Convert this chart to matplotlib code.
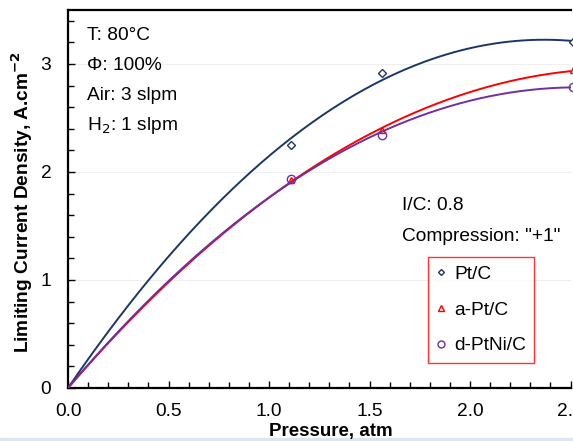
import matplotlib.pyplot as plt
import numpy as np
from matplotlib.lines import Line2D
from matplotlib.patches import Rectangle
from matplotlib.ticker import MultipleLocator

plt.rcParams["font.family"] = ["Liberation Sans", "DejaVu Sans"]

# ----- Data -----
pressure = [1.11, 1.56, 2.51]
pt_c = [2.25, 2.915, 3.20]
a_pt_c = [1.93, 2.385, 2.94]
d_ptni_c = [1.935, 2.34, 2.79]

series = [
    ("Pt/C", pt_c, "#1b3768", "D", 4.0),
    ("a-Pt/C", a_pt_c, "#ff0000", "^", 5.0),
    ("d-PtNi/C", d_ptni_c, "#7030a0", "o", 6.0),
]

conditions = ["T: 80°C", "Φ: 100%", "Air: 3 slpm", "H$_2$: 1 slpm"]
settings = ["I/C: 0.8", 'Compression: "+1"']

FS = 13.8


def fit_through_origin(x, y):
    # 2nd order trend line forced through 0 (like the spreadsheet trend line)
    x = np.asarray(x)
    A = np.column_stack([x, x**2])
    coef, *_ = np.linalg.lstsq(A, np.asarray(y), rcond=None)
    return coef


fig = plt.figure(figsize=(5.73, 4.41), dpi=100)

# light slide band at the bottom edge (behind everything)
fig.patches.append(Rectangle((0, 0), 1, 3 / 441, transform=fig.transFigure,
                             color="#dce6f1", zorder=-5))

ax = fig.add_axes([68 / 573, 53 / 441, 502.5 / 573, 378 / 441])

xs = np.linspace(0, 2.52, 200)
handles = []
for name, vals, color, marker, ms in series:
    a, b = fit_through_origin(pressure, vals)
    ax.plot(xs, a * xs + b * xs**2, color=color, lw=1.4, zorder=3)
    ax.plot(pressure, vals, ls="none", marker=marker, ms=ms, mfc="none",
            mec=color, mew=1.0, zorder=4, clip_on=False)
    handles.append(Line2D([], [], ls="none", marker=marker, ms=ms - 1,
                          mfc="none", mec=color, mew=1.0, label=name))

ax.set_xlim(0, 2.5)
ax.set_ylim(0, 3.5)
ax.xaxis.set_major_locator(MultipleLocator(0.5))
ax.xaxis.set_minor_locator(MultipleLocator(0.1))
ax.yaxis.set_major_locator(MultipleLocator(1))
ax.yaxis.set_minor_locator(MultipleLocator(0.2))
ax.xaxis.set_major_formatter(plt.FormatStrFormatter("%.1f"))
ax.tick_params(which="both", direction="in", top=False, right=False,
               labelsize=FS, width=1.0)
ax.tick_params(which="major", length=5)
ax.tick_params(which="minor", length=4)
ax.tick_params(axis="x", which="major", pad=11)
ax.tick_params(axis="y", which="major", pad=12)
ax.grid(axis="y", color="#efefef", lw=0.8)
ax.set_axisbelow(True)
for s in ax.spines.values():
    s.set_linewidth(1.6)
ax.spines["right"].set_visible(False)

ax.set_xlabel("Pressure, atm", fontsize=13.5, fontweight="bold")
ax.xaxis.set_label_coords(331 / 573, 1 - 423 / 441, transform=fig.transFigure)
ax.set_ylabel("Limiting Current Density, A.cm$^{\\mathbf{-2}}$", fontsize=13.8,
              fontweight="bold")
ax.yaxis.set_label_coords(35 / 573, 1 - 202 / 441, transform=fig.transFigure)

for i, t in enumerate(conditions):
    fig.text(87 / 573, 1 - (40 + 30 * i) / 441, t, fontsize=FS, va="baseline")
for i, t in enumerate(settings):
    fig.text(402 / 573, 1 - (210 + 31 * i) / 441, t, fontsize=FS, va="baseline")

leg = ax.legend(handles=handles, loc="upper left",
                bbox_to_anchor=(428 / 573, 1 - 257 / 441),
                bbox_transform=fig.transFigure, fontsize=FS, frameon=True,
                fancybox=False, edgecolor="#ff0000", handlelength=0.5,
                handletextpad=0.4, labelspacing=0.95, borderpad=0.45,
                borderaxespad=0)
leg.get_frame().set_linewidth(1.0)

fig.savefig("out.png", dpi=100)
